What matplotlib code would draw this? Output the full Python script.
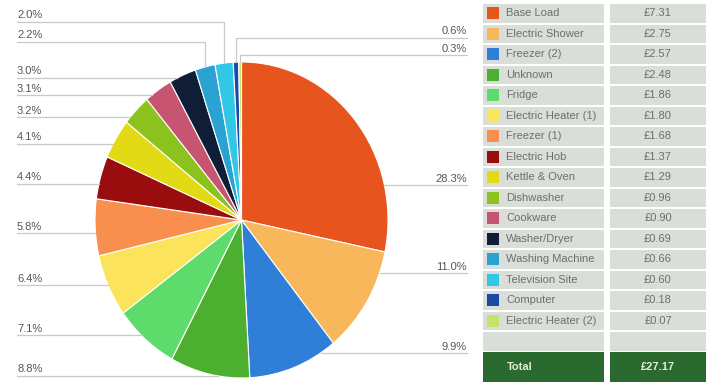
"""
Electricity cost breakdown: pie with percentage call-outs and a cost table
"""

import numpy as np
import matplotlib.pyplot as plt
from matplotlib.patches import Rectangle

plt.rcParams['font.family'] = ['Liberation Sans', 'DejaVu Sans']

# data
appliances = ['Base Load', 'Electric Shower', 'Freezer (2)', 'Unknown', 'Fridge',
              'Electric Heater (1)', 'Freezer (1)', 'Electric Hob', 'Kettle & Oven',
              'Dishwasher', 'Cookware', 'Washer/Dryer', 'Washing Machine',
              'Television Site', 'Computer', 'Electric Heater (2)']
costs = [7.31, 2.75, 2.57, 2.48, 1.86, 1.80, 1.68, 1.37, 1.29,
         0.96, 0.90, 0.69, 0.66, 0.60, 0.18, 0.07]
shares = [28.3, 11.0, 9.9, 8.8, 7.1, 6.4, 5.8, 4.4, 4.1,
          3.2, 3.1, 3.0, 2.2, 2.0, 0.6, 0.3]
colors = ['#e8541d', '#f9b75c', '#2f7fd8', '#4caf30', '#5edc6b', '#fbe35b',
          '#f98f4e', '#9a0d0f', '#e2da14', '#8cc21e', '#c75470', '#101d36',
          '#2ba3d2', '#30c8e6', '#1a4aa6', '#c5e26b']

# layout (pixels, origin top-left)
W, H = 709, 383
cx, cy, rx, ry = 241.5, 220, 146.5, 158
label_y = [185, 273, 353, 376, 335, 285, 233, 184, 144, 117, 95, 78, 42, 22, 38, 55]
label_right = [True, True, True, False, False, False, False, False, False,
               False, False, False, False, False, True, True]
left_x, right_x = 17, 467

fig = plt.figure(figsize=(W / 100, H / 100), dpi=100)

# pie (slightly taller than wide)
ax_pie = fig.add_axes([(cx - rx) / W, 1 - (cy + ry) / H, 2 * rx / W, 2 * ry / H])
ax_pie.pie(shares, colors=colors, startangle=90, counterclock=False, radius=1,
           wedgeprops=dict(edgecolor='white', linewidth=0.8))
ax_pie.set_aspect('auto')
ax_pie.set_xlim(-1, 1)
ax_pie.set_ylim(-1, 1)
ax_pie.axis('off')

# overlay in pixel coordinates
ax = fig.add_axes([0, 0, 1, 1], zorder=-1)
ax.set_xlim(0, W)
ax.set_ylim(H, 0)
ax.axis('off')
ov = fig.add_axes([0, 0, 1, 1], zorder=2)
ov.set_xlim(0, W)
ov.set_ylim(H, 0)
ov.axis('off')
ov.patch.set_alpha(0)

frac = np.array(shares) / sum(shares) * 360
ends = np.cumsum(frac)
starts = ends - frac


def edge(theta):
    t = np.radians(theta)
    return cx + rx * np.sin(t), cy - ry * np.cos(t)


for i, s in enumerate(shares):
    ly = label_y[i]
    c = (cy - ly) / ry
    end_pts = None
    if abs(c) <= 1:
        a = np.degrees(np.arccos(c))
        theta = a if label_right[i] else 360 - a
        if starts[i] <= theta <= ends[i]:
            ex, _ = edge(theta)
            end_pts = [(ex, ly)]
    if end_pts is None:
        mx, my = edge((starts[i] + ends[i]) / 2)
        end_pts = [(mx, ly), (mx, my)]
    x0 = right_x if label_right[i] else left_x
    xs = [x0] + [p[0] for p in end_pts]
    ys = [ly] + [p[1] for p in end_pts]
    ov.plot(xs, ys, color='#c9c9c9', lw=0.9, zorder=1)
    if label_right[i]:
        ov.text(right_x, ly - 1.5, f'{s:.1f}%', ha='right', va='bottom',
                fontsize=8, color='#555555')
    else:
        ov.text(left_x, ly - 1.5, f'{s:.1f}%', ha='left', va='bottom',
                fontsize=8, color='#555555')

# cost table
cell_bg = '#d9ded9'
c1 = (483, 604)
c2 = (610, 706)
pitch, row_h, top = 20.5, 18.5, 4
for i, name in enumerate(appliances + ['']):
    y0 = top + i * pitch
    yc = y0 + row_h / 2
    ov.add_patch(Rectangle((c1[0], y0), c1[1] - c1[0], row_h, color=cell_bg, lw=0))
    ov.add_patch(Rectangle((c2[0], y0), c2[1] - c2[0], row_h, color=cell_bg, lw=0))
    if not name:
        continue
    ov.add_patch(Rectangle((487, yc - 6), 12, 12, color=colors[i], lw=0))
    ov.text(506, yc, name, ha='left', va='center', fontsize=8, color='#6e6e6e')
    ov.text((c2[0] + c2[1]) / 2, yc, f'£{costs[i]:.2f}', ha='center', va='center',
            fontsize=8, color='#6e6e6e')

total_top, total_h = 352, 30
green = '#2b6a2f'
ov.add_patch(Rectangle((c1[0], total_top), c1[1] - c1[0], total_h, color=green, lw=0))
ov.add_patch(Rectangle((c2[0], total_top), c2[1] - c2[0], total_h, color=green, lw=0))
ov.text(507, total_top + total_h / 2, 'Total', ha='left', va='center',
        fontsize=8, color='#e2ecd9', fontweight='bold')
ov.text((c2[0] + c2[1]) / 2, total_top + total_h / 2, f'£{sum(costs):.2f}',
        ha='center', va='center', fontsize=8, color='#e2ecd9', fontweight='bold')

fig.savefig('out.png', dpi=100, facecolor='white')
